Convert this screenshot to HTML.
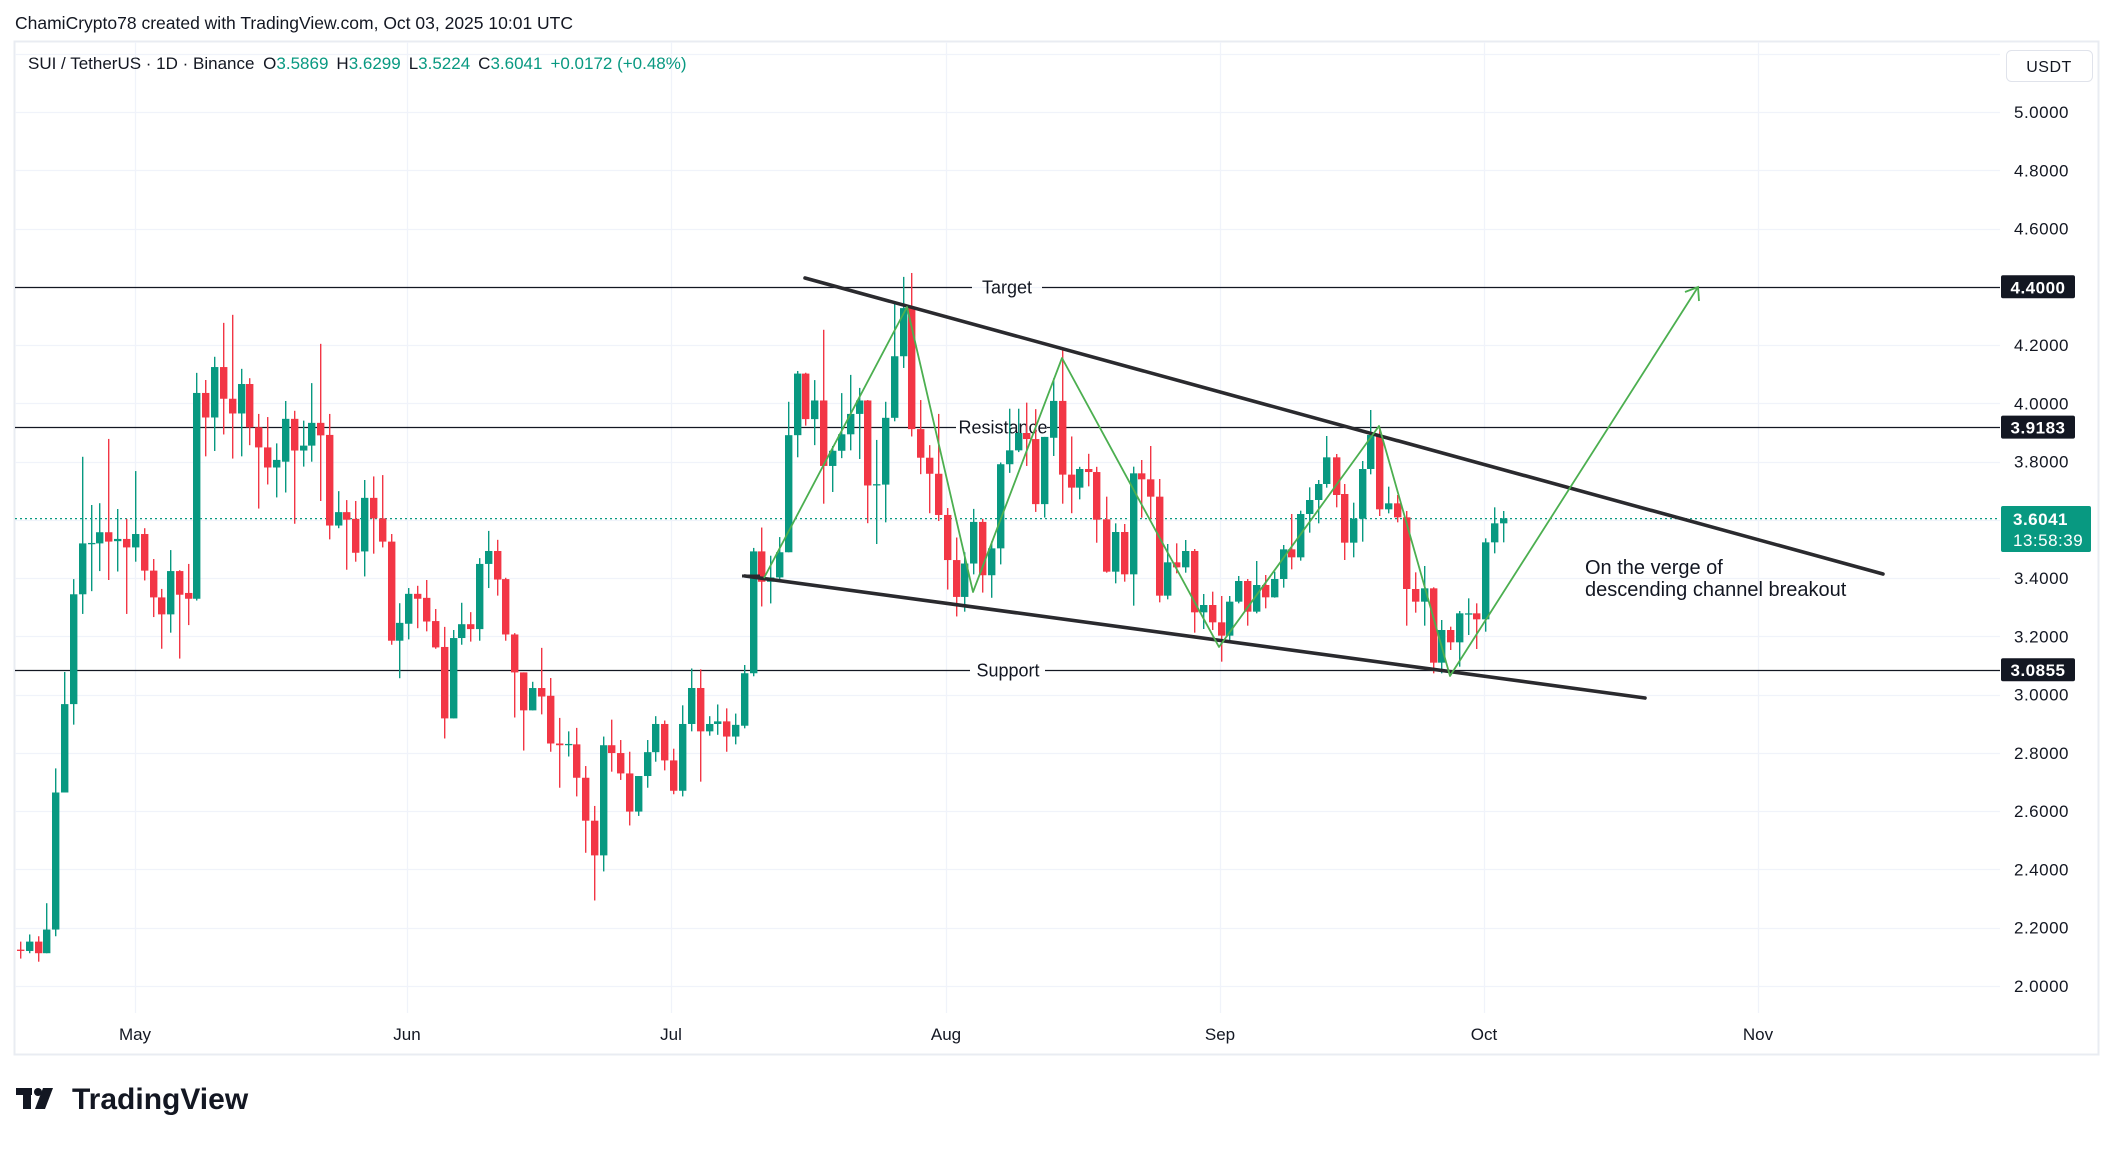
<!DOCTYPE html>
<html><head><meta charset="utf-8">
<style>
html,body{margin:0;padding:0;background:#fff;}
body{width:2114px;height:1145px;overflow:hidden;position:relative;font-family:"Liberation Sans",sans-serif;}
svg text{font-family:"Liberation Sans",sans-serif;}
</style></head>
<body>
<svg id="s" width="2114" height="1145" viewBox="0 0 2114 1145" xmlns="http://www.w3.org/2000/svg"></svg>
<script>
const S=document.getElementById('s');
let h='';
const yP=p=>112+(5-p)*291.3;
// header
h+='<text x="15" y="29" font-size="17.5" fill="#131722">ChamiCrypto78 created with TradingView.com, Oct 03, 2025 10:01 UTC</text>';
// frame
h+='<rect x="14.5" y="41.5" width="2084" height="1013" fill="none" stroke="#e9ecf2" stroke-width="2"/>';
// horizontal grid
for(let p=2.0;p<=5.21;p+=0.2){const y=Math.round(yP(p))+0.5;h+=`<line x1="15" x2="2000" y1="${y}" y2="${y}" stroke="#f0f3fa" stroke-width="1.3"/>`;}
// vertical grid + month labels
const months=[["May",135],["Jun",407],["Jul",671],["Aug",946],["Sep",1220],["Oct",1484],["Nov",1758]];
months.forEach(([m,x])=>{h+=`<line x1="${x+.5}" x2="${x+.5}" y1="42" y2="1013" stroke="#f0f3fa" stroke-width="1.3"/>`;h+=`<text x="${x}" y="1040" font-size="17" fill="#131722" text-anchor="middle">${m}</text>`;});
// price labels
for(let p=2.0;p<=5.01;p+=0.2){const y=yP(p);h+=`<text x="2014" y="${y+6}" font-size="17" fill="#131722" letter-spacing="0.5">${p.toFixed(4)}</text>`;}
// USDT box
h+='<rect x="2006.5" y="50.5" width="86" height="31" rx="5" fill="#fff" stroke="#e0e3eb"/><text x="2049" y="72" font-size="16" fill="#131722" text-anchor="middle" letter-spacing="0.5">USDT</text>';
// horizontal levels with labels
function level(p,label,g1,g2,tx){const y=Math.round(yP(p))+0.5;
h+=`<line x1="15" x2="${g1}" y1="${y}" y2="${y}" stroke="#131722" stroke-width="1.3"/>`;
h+=`<line x1="${g2}" x2="2000" y1="${y}" y2="${y}" stroke="#131722" stroke-width="1.3"/>`;
h+=`<text x="${tx}" y="${y+6}" font-size="18" fill="#131722" text-anchor="middle">${label}</text>`;}
level(4.4,"Target",972,1042,1007);
level(3.9183,"Resistance",956,1047,1003);
level(3.0855,"Support",970,1045,1008);
// current price dotted
h+=`<line x1="15" x2="2000" y1="518.6" y2="518.6" stroke="#089981" stroke-width="1.3" stroke-dasharray="2,3"/>`;
// candles
const Z3=[[57,1500,1503,1482,1520],[82,1503,1482,1466,1508],[105,1482,1508,1470,1527],[130,1508,1455,1396,1508],[155,1455,1148,1094,1470],[180,1148,950,878,1148],[205,950,704,670,996],[230,704,590,396,748],[255,590,589,504,697],[278,590,565,500,652],[303,565,586,356,672],[328,585,580,513,653],[353,580,599,535,748],[378,599,569,428,631],[402,569,651,556,673],[427,651,711,625,755],[452,711,749,692,826],[477,749,652,605,790],[502,652,705,650,848],[527,701,714,636,773],[550,714,253,208,718],[575,253,308,224,395],[600,308,195,172,383],[625,195,266,96,346],[650,266,299,78,400],[675,299,233,199,395],[698,233,330,220,370],[723,330,375,300,512],[748,375,420,307,458],[773,420,403,366,487],[798,407,311,271,476],[822,311,382,293,546],[847,382,371,315,418],[872,371,320,231,407],[897,320,348,143,495],[922,347,550,300,581],[947,550,520,473,556],[970,520,537,493,649],[995,535,611,495,631],[1020,608,488,448,664],[1045,488,534,440,613],[1070,534,586,437,599],[1095,586,808,569,817],[1118,808,768,724,892],[1143,770,703,690,805],[1168,703,714,685,780],[1193,712,765,672,787],[1218,764,823,737,826],[1243,822,982,777,1027],[1268,982,802,784,982],[1292,802,771,723,817],[1317,771,782,744,810],[1342,782,636,623,808],[1367,636,607,562,690],[1392,607,671,582,707],[1415,670,794,667,808],[1440,794,879,791,980],[1465,879,964,879,1054],[1490,964,914,900,964],[1515,914,933,824,973]];
const Z4=[[27,1028,1138,987,1157],[52,1138,1142,1079,1240],[77,1140,1139,1110,1168],[102,1140,1217,1102,1260],[127,1217,1316,1190,1390],[152,1316,1396,1282,1500],[175,1396,1142,1122,1433],[200,1142,1160,1083,1203],[225,1160,1207,1130,1222],[250,1207,1295,1157,1327],[275,1295,1213,1213,1305],[300,1213,1158,1130,1240],[323,1158,1093,1075,1180],[348,1093,1177,1085,1200],[373,1177,1247,1150,1255],[398,1247,1093,1050,1260],[423,1093,1010,965,1110],[448,1010,1110,967,1226],[472,1110,1093,1075,1120],[496,1093,1087,1048,1118],[520,1087,1122,1057,1157],[545,1122,1095,1069,1140],[570,1097,976,957,1103],[595,976,695,687,983],[620,695,765,640,822],[645,765,755,705,815],[670,755,697,662,765],[694,697,427,350,697],[719,427,285,279,478],[743,285,390,283,405],[768,390,347,300,450],[793,347,498,184,585],[818,498,463,452,558],[843,463,425,330,480],[868,425,378,288,462],[892,378,347,318,482],[916,347,543,346,630],[940,541,540,438,678],[966,541,387,350,628],[992,387,245,123,395],[1017,245,134,62,272],[1040,134,413,53,430],[1065,413,479,346,517],[1090,479,516,450,607],[1115,516,611,378,625],[1140,611,715,595,783],[1165,715,800,663,845],[1188,800,723,697,834],[1213,723,627,597,748],[1238,627,750,620,790],[1262,750,688,672,802],[1288,688,494,490,725],[1313,494,462,366,514],[1337,462,422,366,466],[1360,422,436,352,498],[1387,436,586,367,604],[1411,586,431,431,617],[1437,433,348,296,475],[1462,348,518,230,585],[1486,518,548,430,607],[1510,548,505,500,575],[1535,505,512,470,545],[1558,512,622,500,675]];
const Z5=[[72,808,965,740,968],[97,965,846,820,1000],[122,846,973,822,995],[147,973,670,650,1067],[172,670,688,630,803],[197,688,740,588,808],[222,740,1037,687,1057],[244,1037,937,882,1048],[270,937,952,880,970],[295,952,903,870,968],[320,903,1087,897,1148],[345,1087,1065,1032,1137],[370,1065,1117,1025,1140],[394,1117,1157,1038,1235],[418,1157,1055,1038,1170],[443,1055,993,978,1060],[468,993,1085,987,1127],[493,1085,1005,933,1090],[518,1005,1042,975,1075],[542,1042,987,965,1043],[567,987,898,885,1013],[591,898,922,792,958],[617,922,792,782,932],[642,792,750,712,848],[667,750,702,690,820],[690,702,622,558,713],[716,622,735,612,772],[740,732,878,702,930],[765,878,806,758,922],[790,806,657,633,875],[813,657,555,480,673],[838,555,778,532,798],[863,778,760,710,790],[888,760,802,735,817],[913,802,1017,783,1127],[938,1017,1055,967,1088],[962,1055,1015,948,1127],[987,1015,1238,1012,1270],[1012,1238,1140,1110,1270],[1037,1140,1177,1130,1200],[1062,1177,1090,1083,1250],[1087,1091,1090,1045,1155],[1110,1090,1108,1060,1197],[1135,1108,877,865,1145],[1160,877,820,772,910],[1185,820,805,783,877]];
function draw(arr,ox,oy,sx,sy){arr.forEach(([zx,o,c,hi,lo])=>{
 const x=Math.round(ox+zx/sx);const Y=v=>oy+v/sy;
 const yo=Y(o),yc=Y(c),yh=Y(hi),yl=Y(lo);
 const col=c<=o?'#089981':'#f23645';
 h+=`<rect x="${x}" y="${yh}" width="1.4" height="${Math.max(yl-yh,1)}" fill="${col}"/>`;
 const t=Math.min(yo,yc),bh=Math.max(Math.abs(yo-yc),1.3);
 h+=`<rect x="${x-3}" y="${t}" width="7.4" height="${bh}" fill="${col}"/>`;
});}
draw(Z3,0,280,2.8,2.24);
draw(Z4,540,250,2.8,2.306);
draw(Z5,1080,250,2.8,3.0);
// channel lines
h+='<line x1="805" y1="278" x2="1883" y2="574" stroke="#2a2a2e" stroke-width="3.6" stroke-linecap="round"/>';
h+='<line x1="745" y1="576" x2="1645" y2="698" stroke="#2a2a2e" stroke-width="3.6" stroke-linecap="round"/>';
h+='<line x1="742" y1="576" x2="760" y2="576" stroke="#2a2a2e" stroke-width="3"/>';
// green zigzag
h+='<polyline points="764,578 907,307 973,592 1062,358 1219,647 1379,426 1450,676 1698,287" fill="none" stroke="#4caf50" stroke-width="1.8" stroke-linejoin="round"/>';
h+='<polyline points="1685,292 1698,287 1699,301" fill="none" stroke="#4caf50" stroke-width="1.8"/>';
// annotation
h+='<text x="1585" y="574" font-size="20" fill="#131722">On the verge of</text>';
h+='<text x="1585" y="596" font-size="20" fill="#131722">descending channel breakout</text>';
// badges
function badge(p,t){const y=yP(p);h+=`<rect x="2001" y="${y-11.5}" width="74" height="23" rx="2" fill="#131722"/><text x="2038" y="${y+6.5}" font-size="17" font-weight="bold" fill="#fff" text-anchor="middle" letter-spacing="0.5">${t}</text>`;}
badge(4.4,"4.4000");badge(3.9183,"3.9183");badge(3.0855,"3.0855");
h+='<rect x="2001" y="506" width="90" height="46" rx="2" fill="#089981"/><text x="2013" y="525" font-size="17" font-weight="bold" fill="#fff" letter-spacing="0.5">3.6041</text><text x="2013" y="546" font-size="17" fill="#fff" letter-spacing="0.5">13:58:39</text>';
// legend
h+='<text x="28" y="69" font-size="17" fill="#131722">SUI / TetherUS · 1D · Binance <tspan dx="4">O</tspan><tspan fill="#089981">3.5869</tspan><tspan dx="8">H</tspan><tspan fill="#089981">3.6299</tspan><tspan dx="8">L</tspan><tspan fill="#089981">3.5224</tspan><tspan dx="8">C</tspan><tspan fill="#089981">3.6041</tspan><tspan dx="8" fill="#089981">+0.0172 (+0.48%)</tspan></text>';
// footer logo
h+='<g fill="#131722"><rect x="16" y="1088" width="16" height="7"/><rect x="23" y="1088" width="8" height="21"/><circle cx="38" cy="1092" r="4"/><polygon points="43,1088 53,1088 45,1109 35,1109"/></g>';
h+='<text x="72" y="1109" font-size="30" font-weight="bold" fill="#131722">TradingView</text>';
S.innerHTML=h;
</script>
</body></html>
